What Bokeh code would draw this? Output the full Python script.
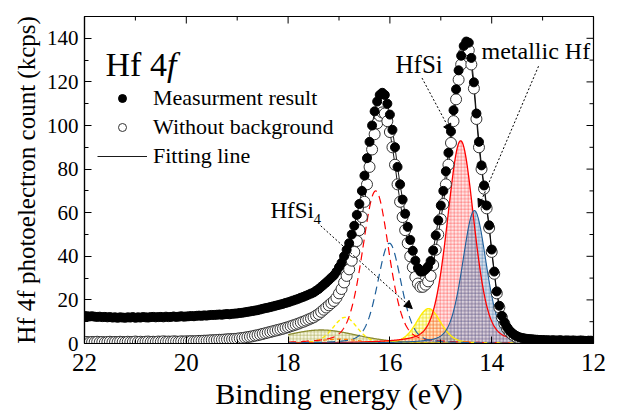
import numpy as np
from bokeh.plotting import figure
from bokeh.models import (Range1d, SingleIntervalTicker, Label, Arrow,
                          NormalHead, Legend, LegendItem)
from bokeh.embed import file_html
from bokeh.resources import INLINE

FONT = "Liberation Serif"

# ---------------- data ----------------
E_START, E_STOP, N_POINTS = 22.0, 12.0, 201          # binding energy grid, 0.05 eV step
energy = np.linspace(E_START, E_STOP, N_POINTS)

# Measurement result (with background), kcps
measured = [
    12.6, 12.5, 12.4, 12.5, 12.3, 12.2, 12.3, 12.1, 12.2, 12.0,
    12.1, 11.9, 12.0, 11.8, 12.0, 11.9, 11.8, 12.0, 11.9, 12.1,
    11.8, 12.0, 11.9, 12.1, 12.0, 11.9, 12.1, 12.2, 12.0, 12.1,
    12.2, 12.0, 12.3, 12.1, 12.2, 12.4, 12.2, 12.3, 12.5, 12.3,
    12.4, 12.5, 12.6, 12.5, 12.7, 12.8, 12.7, 12.9, 12.8, 13.0,
    13.1, 13.1, 13.2, 13.3, 13.2, 13.4, 13.5, 13.4, 13.6, 13.7,
    13.8, 14.0, 14.1, 14.3, 14.5, 14.7, 14.9, 15.1, 15.3, 15.6,
    15.9, 16.2, 16.4, 16.7, 17.0, 17.3, 17.6, 17.9, 18.2, 18.6,
    18.9, 19.3, 19.7, 20.1, 20.5, 21.0, 21.4, 21.9, 22.4, 22.9,
    23.4, 24.2, 25.0, 26.0, 27.0, 28.0, 29.1, 30.2, 31.3, 32.9,
    35.0, 37.0, 40.0, 43.0, 46.0, 50.0, 54.0, 59.0, 64.0, 70.0,
    77.0, 85.0, 92.5, 100.0, 106.5, 111.0, 114.0, 115.0, 114.0, 110.0,
    105.0, 98.0, 90.0, 81.0, 73.0, 66.0, 59.5, 53.5, 47.5, 42.5,
    38.0, 34.6, 33.0, 33.0, 34.0, 35.3, 37.8, 42.7, 49.6, 56.5,
    63.3, 70.0, 79.0, 87.5, 97.3, 107.0, 116.6, 125.3, 132.0, 136.5,
    138.5, 138.0, 131.0, 119.8, 105.5, 92.5, 81.7, 72.5, 63.3, 54.2,
    43.1, 33.0, 23.9, 17.3, 12.7, 9.7, 7.5, 5.9, 4.8, 3.9,
    3.3, 2.8, 2.5, 2.3, 2.1, 2.0, 1.9, 1.8, 1.7, 1.6,
    1.6, 1.5, 1.5, 1.4, 1.5, 1.4, 1.4, 1.5, 1.3, 1.4,
    1.4, 1.3, 1.4, 1.3, 1.3, 1.4, 1.3, 1.2, 1.3, 1.3, 1.2,
]

# Without background, kcps
no_background = [
    0.6, 0.7, 0.5, 0.7, 0.6, 0.8, 0.6, 0.7, 0.5, 0.7,
    0.8, 0.6, 0.7, 0.6, 0.8, 0.7, 0.6, 0.8, 0.7, 0.7,
    0.9, 0.7, 0.8, 0.6, 0.8, 0.9, 0.7, 0.8, 0.7, 0.9,
    0.8, 1.0, 0.8, 0.9, 0.8, 1.0, 0.9, 0.8, 1.0, 0.9,
    1.0, 1.0, 1.1, 1.0, 1.1, 1.2, 1.2, 1.3, 1.3, 1.4,
    1.5, 1.5, 1.6, 1.7, 1.7, 1.8, 1.9, 2.0, 2.0, 2.1,
    2.2, 2.4, 2.5, 2.7, 2.9, 3.1, 3.3, 3.6, 3.8, 4.1,
    4.4, 4.7, 5.0, 5.3, 5.6, 5.9, 6.2, 6.5, 6.8, 7.2,
    7.5, 7.9, 8.3, 8.7, 9.1, 9.6, 10.0, 10.5, 11.0, 11.5,
    12.0, 12.8, 13.5, 14.5, 15.5, 16.5, 17.5, 18.5, 19.5, 21.0,
    23.0, 25.0, 28.0, 31.0, 34.0, 38.0, 42.0, 47.0, 52.0, 58.0,
    65.0, 73.0, 81.0, 89.0, 96.0, 101.0, 104.5, 106.0, 105.5, 102.0,
    97.0, 90.0, 82.0, 73.0, 65.0, 58.0, 52.0, 46.0, 40.0, 35.0,
    30.5, 27.5, 26.0, 26.0, 27.0, 28.5, 31.0, 36.0, 43.0, 50.0,
    57.0, 64.0, 73.0, 82.0, 92.0, 102.0, 112.0, 121.0, 128.0, 133.0,
    135.0, 134.5, 128.0, 117.0, 103.0, 90.0, 80.0, 71.0, 62.0, 53.0,
    42.0, 32.0, 23.0, 16.5, 12.0, 9.0, 6.8, 5.3, 4.2, 3.3,
    2.7, 2.2, 1.9, 1.7, 1.5, 1.4, 1.3, 1.2, 1.1, 1.0,
    1.0, 0.9, 0.9, 0.8, 0.9, 0.8, 0.8, 0.9, 0.7, 0.8,
    0.8, 0.7, 0.8, 0.7, 0.7, 0.8, 0.7, 0.6, 0.7, 0.7, 0.6,
]

# Fitted components (pseudo-Voigt): centre (eV), height (kcps), FWHM (eV)
comp_names   = ["HfSi 4f7/2", "HfSi 4f5/2", "Hf 4f7/2", "Hf 4f5/2",
                "HfSi4 4f7/2", "HfSi4 4f5/2", "broad", "minor"]
comp_centers = [14.61, 16.28, 14.34, 16.01, 15.24, 16.88, 17.35, 17.00]
comp_heights = [93.0, 70.0, 61.0, 46.0, 16.0, 12.0, 6.2, 2.0]
comp_fwhm    = [0.62, 0.62, 0.55, 0.55, 0.57, 0.57, 1.70, 1.00]
FIT_RANGE = (18.0, 12.5)
ETA = 0.3

X_LO, X_HI, Y_LO, Y_HI = 12, 22, 0, 150
x_major = [12, 14, 16, 18, 20, 22]
x_minor = [13, 15, 17, 19, 21]
y_major = [0, 20, 40, 60, 80, 100, 120, 140]
y_minor = [10, 30, 50, 70, 90, 110, 130]


def pvoigt(x, c, h, w, eta=ETA):
    d2 = ((x - c) / w) ** 2
    return h * (eta / (1 + 4 * d2) + (1 - eta) * np.exp(-4 * np.log(2) * d2))


# ---------------- figure ----------------
FW, FH = 509, 327
p = figure(frame_width=FW, frame_height=FH, min_border_left=84, min_border_right=29,
           min_border_top=16, min_border_bottom=76,
           x_range=Range1d(X_HI, X_LO), y_range=Range1d(Y_LO, Y_HI),
           output_backend="svg", toolbar_location=None)
p.xgrid.grid_line_color = None
p.ygrid.grid_line_color = None
p.outline_line_color = "black"
p.outline_line_width = 1.2
p.background_fill_color = "white"
p.border_fill_color = "white"

xg = np.linspace(FIT_RANGE[0], FIT_RANGE[1], 551)
curves = [pvoigt(xg, c, h, w) for c, h, w in zip(comp_centers, comp_heights, comp_fwhm)]

# filled components
p.varea(x=xg, y1=0, y2=curves[6], fill_color="#e8e8b0", fill_alpha=0.35,
        hatch_pattern="+", hatch_color="#a8a850", hatch_scale=3.5, hatch_weight=0.8, hatch_alpha=0.7)
p.varea(x=xg, y1=0, y2=curves[4], fill_color="#ffff90", fill_alpha=0.4,
        hatch_pattern="+", hatch_color="#e8d800", hatch_scale=3.5, hatch_weight=0.8, hatch_alpha=0.8)
p.varea(x=xg, y1=0, y2=curves[0], fill_color="#ffb8b8", fill_alpha=0.35,
        hatch_pattern="+", hatch_color="#ff4040", hatch_scale=3.5, hatch_weight=0.8, hatch_alpha=0.55)
p.varea(x=xg, y1=0, y2=curves[2], fill_color="#90a8c8", fill_alpha=0.35,
        hatch_pattern="+", hatch_color="#3a70a8", hatch_scale=3.5, hatch_weight=0.8, hatch_alpha=0.55)

p.line(xg, curves[6], line_color="#8c8c30", line_width=1.3)
p.line(xg, curves[7], line_color="#ff8000", line_width=1.2, line_dash="4 3")
p.line(xg, curves[4], line_color="#ffee00", line_width=1.4)
p.line(xg, curves[5], line_color="#ffee00", line_width=1.4, line_dash="4 3")
p.line(xg, curves[0], line_color="#ff0000", line_width=1.3)
p.line(xg, curves[1], line_color="#ff0000", line_width=1.2, line_dash="8 5")
p.line(xg, curves[2], line_color="#1f5f9a", line_width=1.1)
p.line(xg, curves[3], line_color="#1f5f9a", line_width=1.2, line_dash="8 5")

# fitting lines
fit_r = p.line(energy, measured, line_color="black", line_width=0.9)
p.line(energy, no_background, line_color="black", line_width=0.9)

# data markers
open_r = p.scatter(energy, no_background, marker="circle", size=11, fill_color="white",
                   line_color="#333333", line_width=1)
meas_r = p.scatter(energy, measured, marker="circle", size=9, fill_color="black",
                   line_color="black")

# ---------------- axes ----------------
for ax, size in ((p.xaxis[0], "25px"), (p.yaxis[0], "21px")):
    ax.major_tick_in = 7
    ax.major_tick_out = 0
    ax.minor_tick_in = 4
    ax.minor_tick_out = 0
    ax.axis_line_color = "black"
    ax.axis_line_width = 1.2
    ax.major_tick_line_color = "black"
    ax.minor_tick_line_color = "black"
    ax.major_label_text_font = FONT
    ax.major_label_text_font_size = size
    ax.major_label_text_color = "black"
    ax.axis_label_text_font = FONT
    ax.axis_label_text_font_style = "normal"
    ax.axis_label_text_color = "black"

p.xaxis.ticker = SingleIntervalTicker(interval=2, num_minor_ticks=2)
p.yaxis.ticker = SingleIntervalTicker(interval=20, num_minor_ticks=2)
p.xaxis.major_label_standoff = 10
p.yaxis.major_label_standoff = 6
p.xaxis.axis_label = "Binding energy (eV)"
p.xaxis.axis_label_text_font_size = "30px"
p.xaxis.axis_label_standoff = 3
p.yaxis.axis_label = "Hf 4f photoelectron count (kcps)"
p.yaxis.axis_label_text_font_size = "25px"
p.yaxis.axis_label_standoff = 4

# mirrored inward ticks on the top and right frame edges
dy_major, dy_minor = 7 * (Y_HI - Y_LO) / FH, 4 * (Y_HI - Y_LO) / FH
dx_major, dx_minor = 7 * (X_HI - X_LO) / FW, 4 * (X_HI - X_LO) / FW
tick_style = dict(line_color="black", line_width=1)
p.segment(x0=x_major, y0=[Y_HI] * len(x_major), x1=x_major,
          y1=[Y_HI - dy_major] * len(x_major), **tick_style)
p.segment(x0=x_minor, y0=[Y_HI] * len(x_minor), x1=x_minor,
          y1=[Y_HI - dy_minor] * len(x_minor), **tick_style)
p.segment(x0=[X_LO] * len(y_major), y0=y_major, x1=[X_LO + dx_major] * len(y_major),
          y1=y_major, **tick_style)
p.segment(x0=[X_LO] * len(y_minor), y0=y_minor, x1=[X_LO + dx_minor] * len(y_minor),
          y1=y_minor, **tick_style)

# ---------------- legend ----------------
legend = Legend(items=[LegendItem(label="Measurment result", renderers=[meas_r]),
                       LegendItem(label="Without background", renderers=[open_r]),
                       LegendItem(label="Fitting line", renderers=[fit_r])],
                location=(13, 174), glyph_width=50, glyph_height=20, label_height=20,
                spacing=3, padding=0, margin=0, label_standoff=6,
                label_text_font=FONT, label_text_font_size="22px", label_text_color="black",
                border_line_alpha=0, background_fill_alpha=0)
p.add_layout(legend)

# ---------------- texts ----------------
def lab(x, y, text, size, style="normal"):
    p.add_layout(Label(x=x, y=y, text=text, text_font=FONT, text_font_size=size,
                       text_font_style=style, text_color="black",
                       text_align="left", text_baseline="alphabetic"))


lab(21.587, 127.9, "Hf 4", "34px")
lab(20.38, 127.9, "f", "34px", "italic")
lab(15.89, 128.1, "HfSi", "25px")
lab(14.20, 134.0, "metallic Hf", "24px")
lab(18.346, 60.8, "HfSi", "23px")
lab(17.50, 57.2, "4", "15px")

# dotted arrows
for (x0, y0, x1, y1) in [(15.37, 121.8, 14.80, 97.0),
                         (13.08, 127.2, 14.26, 62.5),
                         (17.36, 54.0, 15.56, 16.0)]:
    p.add_layout(Arrow(x_start=x0, y_start=y0, x_end=x1, y_end=y1,
                       line_color="black", line_width=1, line_dash="2 2",
                       end=NormalHead(size=8, fill_color="black", line_color="black")))

open("out.html", "w").write(file_html(p, INLINE))
